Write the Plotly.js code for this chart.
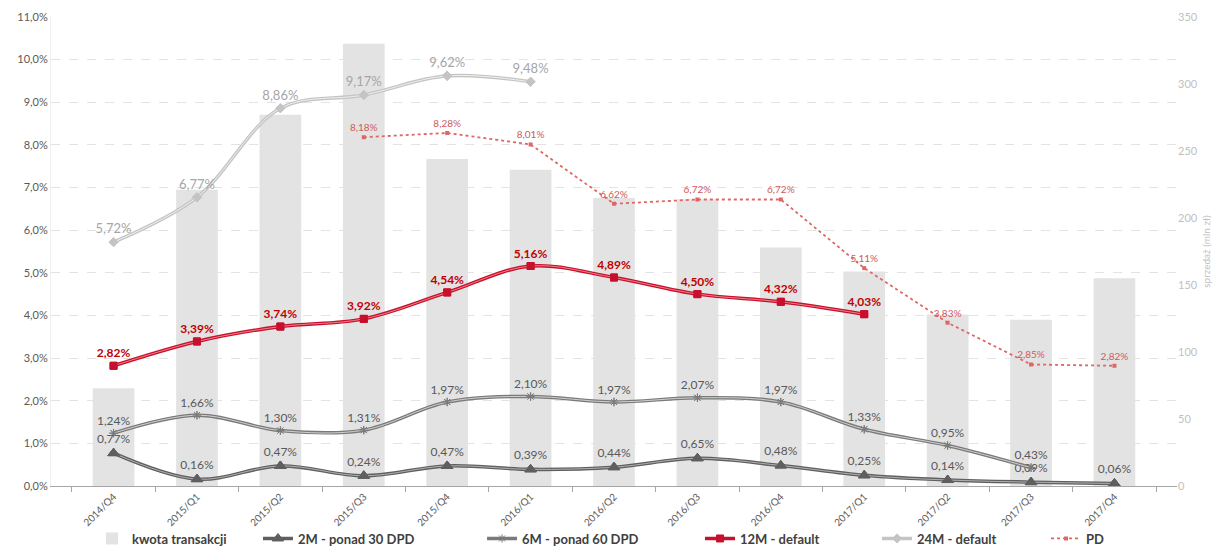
<!DOCTYPE html>
<html>
<head>
<meta charset="utf-8">
<script src="https://cdn.plot.ly/plotly-3.0.1.min.js"></script>
<style>html,body{margin:0;padding:0;background:#fff;}#chart{width:1215px;height:550px;}</style>
</head>
<body>
<div id="chart"></div>
<script>
const categories = ['2014/Q4','2015/Q1','2015/Q2','2015/Q3','2015/Q4','2016/Q1','2016/Q2','2016/Q3','2016/Q4','2017/Q1','2017/Q2','2017/Q3','2017/Q4'];
const kwotaTransakcji = [73,221,277,330,244,236,215,214,178,160,128,124,155];
const m2 = [0.77,0.16,0.47,0.24,0.47,0.39,0.44,0.65,0.48,0.25,0.14,0.09,0.06];
const m6 = [1.24,1.66,1.30,1.31,1.97,2.10,1.97,2.07,1.97,1.33,0.95,0.43,null];
const m12 = [2.82,3.39,3.74,3.92,4.54,5.16,4.89,4.50,4.32,4.03,null,null,null];
const m24 = [5.72,6.77,8.86,9.17,9.62,9.48,null,null,null,null,null,null,null];
const pd = [null,null,null,8.18,8.28,8.01,6.62,6.72,6.72,5.11,3.83,2.85,2.82];

const fmt = v => v === null ? '' : v.toFixed(2).replace('.', ',') + '%';
const FONT = 'Lato, "Open Sans", sans-serif';

function doubleLine(name, y, outer, inner, symbol, msize, lblColor, lblSize, lblBold, legendId) {
  return [
    {x: categories, y: y, name: name, type: 'scatter', mode: 'lines+markers', yaxis: 'y2', legend: legendId,
     line: {color: outer, width: 3.5, shape: 'spline', smoothing: 1},
     marker: {symbol: symbol, size: msize, color: outer, line: {color: outer, width: 1}},
     hoverinfo: 'skip'},
    {x: categories, y: y, name: name + ' inner', type: 'scatter', mode: 'lines', yaxis: 'y2', showlegend: false,
     line: {color: inner, width: 1, shape: 'spline', smoothing: 1}, hoverinfo: 'skip'},
    {x: categories, y: y, name: name + ' pts', type: 'scatter', mode: 'markers+text', yaxis: 'y2', showlegend: false,
     marker: {symbol: symbol, size: msize, color: outer, line: {color: outer, width: 1}},
     text: y.map(fmt), textposition: 'top center',
     textfont: {family: FONT, size: lblSize, color: lblColor, weight: lblBold ? 'bold' : 'normal'},
     hoverinfo: 'skip'}
  ];
}

const traces = [
  {x: categories, y: kwotaTransakcji, name: 'kwota transakcji', type: 'bar', yaxis: 'y', legend: 'legend',
   marker: {color: '#e3e3e3'}, hoverinfo: 'skip'}
];
traces.push(...doubleLine('2M - ponad 30 DPD', m2, '#5f5f5f', '#b0b0b0', 'triangle-up', 10, '#595959', 12, false, 'legend2'));
traces.push(...doubleLine('6M - ponad 60 DPD', m6, '#7a7a7a', '#d0d0d0', 'asterisk-open', 7, '#595959', 12, false, 'legend3'));
traces.push(...doubleLine('12M - default', m12, '#c8102e', '#f08080', 'square', 7, '#c00000', 12, true, 'legend4'));
traces.push(...doubleLine('24M - default', m24, '#c4c4c4', '#f0f0f0', 'diamond', 7, '#a6a6a6', 13, false, 'legend5'));
traces.push({x: categories, y: pd, name: 'PD', type: 'scatter', mode: 'lines+markers+text', yaxis: 'y2', legend: 'legend6',
  line: {color: '#e06666', width: 1.8, dash: 'dot'},
  marker: {symbol: 'square', size: 4, color: '#e06666'},
  text: pd.map(fmt), textposition: 'top center',
  textfont: {family: FONT, size: 10, color: '#d05a5a'}, hoverinfo: 'skip'});

const legendXs = [0.0364, 0.1838, 0.3828, 0.5764, 0.7336, 0.8837];
function mkLegend(x) {
  return {orientation: 'h', x: x, xanchor: 'left', y: -0.08, yanchor: 'top', bgcolor: 'rgba(0,0,0,0)',
          font: {family: FONT, size: 13, color: '#404040', weight: 'bold'}, itemwidth: 30};
}

const layout = {
  width: 1215, height: 550,
  margin: {l: 51, r: 38, t: 17, b: 64, autoexpand: false},
  paper_bgcolor: '#ffffff', plot_bgcolor: '#ffffff',
  font: {family: FONT, color: '#595959'},
  separators: ', ',
  bargap: 0.5,
  showlegend: true,
  legend: mkLegend(legendXs[0]),
  legend2: mkLegend(legendXs[1]),
  legend3: mkLegend(legendXs[2]),
  legend4: mkLegend(legendXs[3]),
  legend5: mkLegend(legendXs[4]),
  legend6: mkLegend(legendXs[5]),
  xaxis: {type: 'category', tickangle: -45, tickfont: {size: 10, color: '#595959'}, automargin: false,
          showgrid: false, showline: true, linecolor: '#a6a6a6', linewidth: 1,
          ticks: 'outside', tickson: 'boundaries', ticklen: 5, tickcolor: '#a6a6a6',
          zeroline: false},
  yaxis: {side: 'right', range: [0, 350], dtick: 50, showgrid: false, zeroline: false, automargin: false,
          tickfont: {size: 11, color: '#bfbfbf'}, showline: false,
          title: {text: 'sprzedaż (mln zł)', font: {size: 10, color: '#bfbfbf'}, standoff: 6}},
  yaxis2: {overlaying: 'y', side: 'left', range: [0, 11], dtick: 1, tickformat: '.1f', ticksuffix: '%',
           showgrid: true, gridcolor: '#e3e3e3', griddash: 'dash', gridwidth: 1, automargin: false,
           zeroline: false, showline: true, linecolor: '#f0f0f0',
           tickfont: {size: 11, color: '#595959'}}
};

Plotly.newPlot('chart', traces, layout, {displayModeBar: false, staticPlot: true});
</script>
</body>
</html>
